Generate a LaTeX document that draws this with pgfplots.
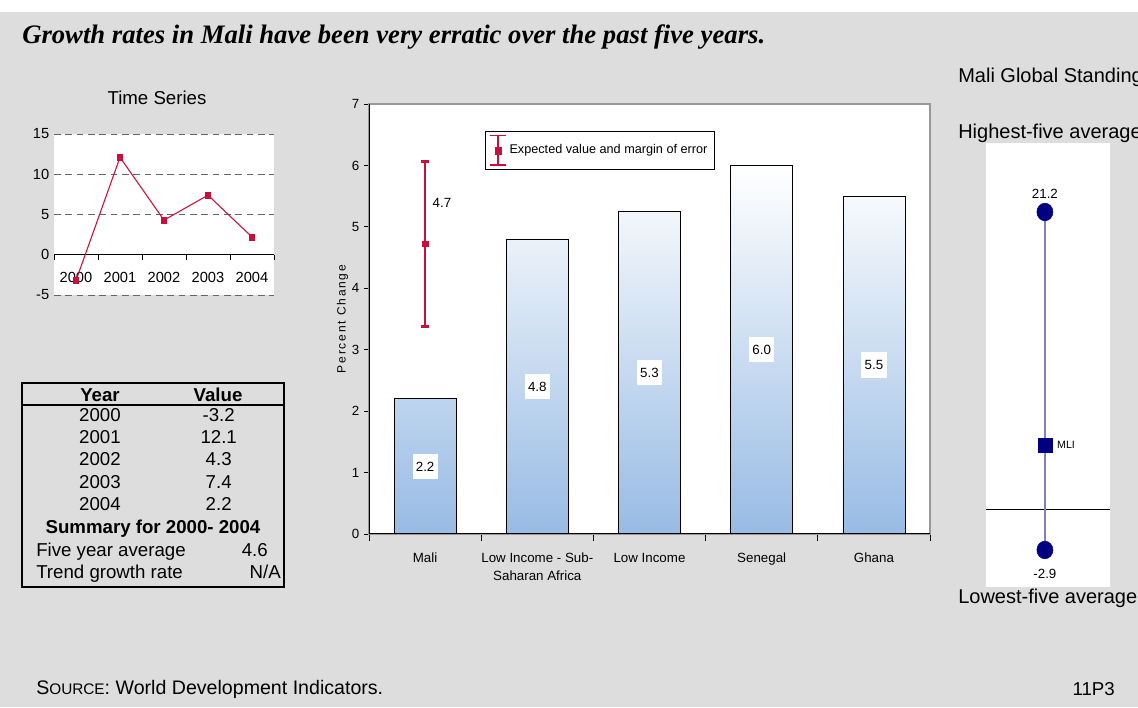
\documentclass[border=0pt]{standalone}
\usepackage{fontspec}
\setmainfont{Liberation Sans}
\newfontfamily\titlefont{Liberation Serif}
\usepackage{pgfplots}
\pgfplotsset{compat=1.18}
\definecolor{bggray}{RGB}{221,221,221}
\definecolor{crimson}{RGB}{200,16,60}
\definecolor{navyb}{RGB}{0,0,128}
\definecolor{lineblue}{RGB}{128,128,196}
\definecolor{barblue}{RGB}{152,187,228}
\newcommand{\fs}[1]{\fontsize{#1}{#1}\selectfont}
\begin{document}
\begin{tikzpicture}
\useasboundingbox (0,0) rectangle (853.5pt,530.25pt);
\clip (0,0) rectangle (853.5pt,530.25pt);
\fill[white] (0,0) rectangle (853.5pt,530.25pt);
\fill[bggray] (0,0) rectangle (853.5pt,521.25pt);
% title
\node[anchor=base west, inner sep=0pt, font=\titlefont\bfseries\itshape\fs{20}] at (16.5pt,497.25pt) {Growth rates in Mali have been very erratic over the past five years.};
% ---------------- time series
\node[font=\fs{14}] at (117.75pt,456.75pt) {Time Series};
\begin{axis}[at={(40.5pt,309pt)}, anchor=south west, scale only axis,
  width=165pt, height=120.75pt,
  xmin=-0.5, xmax=4.5, ymin=-5, ymax=15,
  axis background/.style={fill=white},
  axis x line*=middle, axis y line*=left,
  y axis line style={draw=none},
  x axis line style={black, line width=0.8pt},
  ytick={-5,0,5,10,15},
  ymajorgrids, major grid style={dash pattern=on 5pt off 3.5pt, black!60, line width=0.6pt},
  ytick style={draw=none},
  xtick={0,1,2,3,4}, xticklabels={2000,2001,2002,2003,2004},
  minor xtick={-0.5,0.5,1.5,2.5,3.5,4.5},
  major x tick style={draw=none},
  minor x tick style={black, line width=0.6pt},
  minor tick length=4pt, xtick align=outside,
  tick label style={font=\fs{11}},
  xticklabel style={yshift=-5pt},
  /pgf/number format/assume math mode=true,
]
\addplot[crimson, line width=0.8pt, mark=square*, mark size=2.2pt] coordinates {(0,-3.2)(1,12.1)(2,4.3)(3,7.4)(4,2.2)};
\end{axis}
% ---------------- table
\draw[line width=1.5pt] (16.5pt,90pt) rectangle (213pt,243pt);
\draw[line width=0.8pt] (16.5pt,226.5pt) -- (213pt,226.5pt);
\begin{scope}[every node/.style={font=\fs{14}, inner sep=0pt, text height=10pt, text depth=2.5pt}]
\node[font=\bfseries\fs{14}] at (75pt,232.5pt) {Year};
\node[font=\bfseries\fs{14}] at (163.5pt,232.5pt) {Value};
\node at (75pt,217.5pt) {2000}; \node at (164pt,217.5pt) {-3.2};
\node at (75pt,201pt) {2001}; \node at (164pt,201pt) {12.1};
\node at (75pt,184.5pt) {2002}; \node at (164pt,184.5pt) {4.3};
\node at (75pt,167.25pt) {2003}; \node at (164pt,167.25pt) {7.4};
\node at (75pt,150.75pt) {2004}; \node at (164pt,150.75pt) {2.2};
\node[font=\bfseries\fs{14}] at (114.75pt,134.25pt) {Summary for 2000- 2004};
\node[anchor=west] at (27pt,117pt) {Five year average};
\node[anchor=east] at (201pt,117pt) {4.6};
\node[anchor=west] at (27pt,100.5pt) {Trend growth rate};
\node[anchor=east] at (210.75pt,100.5pt) {N/A};
\end{scope}
% ---------------- main bar chart
\begin{axis}[at={(276.75pt,129.75pt)}, anchor=south west, scale only axis,
  width=420.75pt, height=322.5pt,
  xmin=-0.5, xmax=4.5, ymin=0, ymax=7,
  axis background/.style={fill=white},
  axis line style={black!40, line width=0.8pt},
  ytick={0,1,2,3,4,5,6,7},
  xtick={0,1,2,3,4},
  xticklabels={Mali,{Low Income - Sub-\\Saharan Africa},Low Income,Senegal,Ghana},
  minor xtick={-0.5,0.5,1.5,2.5,3.5,4.5},
  xtick pos=bottom, ytick pos=left, tick align=outside,
  major x tick style={draw=none},
  tick style={black, line width=0.6pt},
  major tick length=3.75pt, minor tick length=5.25pt,
  tick label style={font=\fs{10}},
  xticklabel style={align=center, yshift=-7pt, font=\fontsize{10}{13.5}\selectfont},
  ylabel={\addfontfeature{LetterSpace=15}Percent Change},
  ylabel style={font=\fs{9}, yshift=-4pt},
  /pgf/number format/assume math mode=true,
  legend style={at={(0.207,0.937)}, anchor=north west, draw=black, fill=white,
     font=\fs{9.5}, inner xsep=3pt, inner ysep=2.5pt, cells={anchor=west}},
  legend image code/.code={
     \draw[crimson, line width=1.5pt] (6pt,-11pt) -- (6pt,11pt);
     \draw[crimson, line width=1.1pt] (0pt,-11pt) -- (12pt,-11pt) (0pt,11pt) -- (12pt,11pt);
     \fill[crimson] (3.6pt,-2.6pt) rectangle (8.4pt,2.6pt);
  },
]
\addplot[ybar, bar width=46.5pt, draw=black, line width=0.6pt, top color=white, bottom color=barblue, forget plot]
  coordinates {(0,2.2)(1,4.8)(2,5.25)(3,6.0)(4,5.5)};
\addplot[draw=none, forget plot, nodes near coords, point meta=explicit symbolic,
  nodes near coords style={anchor=center, fill=white, inner xsep=2.5pt, inner ysep=6pt, font=\fs{10}}]
  coordinates {(0,1.1)[2.2] (1,2.4)[4.8] (2,2.625)[5.3] (3,3.0)[6.0] (4,2.75)[5.5]};
\addplot[crimson, mark=square*, mark size=2pt,
  error bars/.cd, y dir=both, y explicit,
  error bar style={line width=2pt, crimson},
  error mark options={rotate=90, mark size=2.8pt, line width=2pt, crimson}]
  coordinates {(0,4.72) +- (0,1.34)};
\addlegendentry{Expected value and margin of error}
\addplot[draw=none, forget plot, nodes near coords, point meta=explicit symbolic,
  nodes near coords style={anchor=west, inner sep=0pt, font=\fs{10}}]
  coordinates {(0.065,5.39)[4.7]};
\draw[black, line width=0.9pt] (rel axis cs:0,1) -- (rel axis cs:0,0) -- (rel axis cs:1,0);
\end{axis}
% ---------------- global standing
\node[anchor=west, inner sep=0pt, font=\fs{15}] at (718.5pt,472.5pt) {Mali Global Standing};
\node[anchor=west, inner sep=0pt, font=\fs{15}] at (718.5pt,430.5pt) {Highest-five average};
\node[anchor=west, inner sep=0pt, font=\fs{15}] at (718.5pt,81.75pt) {Lowest-five average};
\fill[white] (739.5pt,90pt) rectangle (832.5pt,423pt);
\begin{axis}[at={(739.5pt,90pt)}, anchor=south west, scale only axis,
  width=93pt, height=333pt, hide axis, clip=false,
  xmin=-0.95, xmax=1.05, ymin=-5.54, ymax=26.12]
\addplot[black, line width=0.8pt] coordinates {(-0.95,0)(1.05,0)};
\addplot[lineblue, line width=1.5pt] coordinates {(0,21.2)(0,-2.9)};
\addplot[only marks, mark=*, navyb, mark size=6pt, mark options={yscale=1.1},
  nodes near coords, point meta=explicit symbolic,
  nodes near coords style={anchor=south, yshift=9pt, inner sep=1pt, font=\fs{10}, text=black}]
  coordinates {(0,21.2)[21.2]};
\addplot[only marks, mark=*, navyb, mark size=6pt, mark options={yscale=1.1},
  nodes near coords, point meta=explicit symbolic,
  nodes near coords style={anchor=north, yshift=-13pt, inner sep=1pt, font=\fs{10}, text=black}]
  coordinates {(0,-2.9)[-2.9]};
\addplot[only marks, mark=square*, navyb, mark size=5.25pt,
  nodes near coords, point meta=explicit symbolic,
  nodes near coords style={anchor=west, xshift=8pt, inner sep=1pt, font=\fs{8}, text=black}]
  coordinates {(0,4.6)[MLI]};
\end{axis}
% ---------------- source
\node[anchor=west, inner sep=0pt, font=\fs{14.7}] at (27pt,13.5pt) {S{\fs{11.5}OURCE}: World Development Indicators.};
\node[anchor=east, inner sep=0pt, font=\fs{14}] at (836.25pt,13.5pt) {11P3};
\end{tikzpicture}
\end{document}
